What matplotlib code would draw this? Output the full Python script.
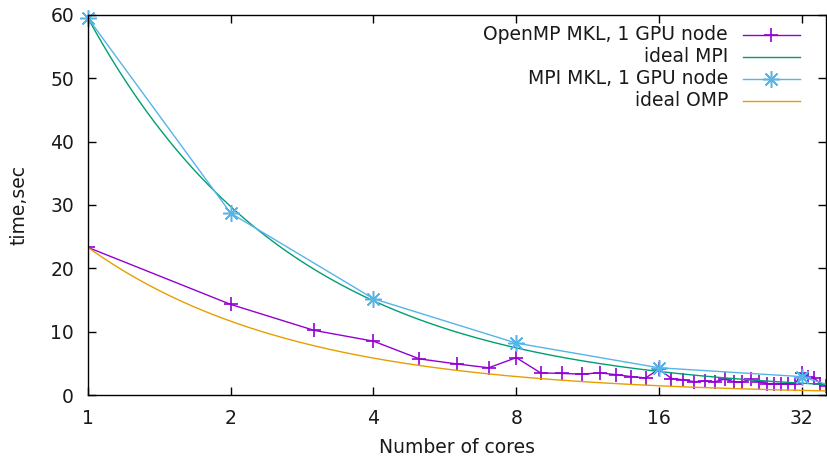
import numpy as np
import matplotlib
matplotlib.use('Agg')
from matplotlib import pyplot as plt

# Measured run times (seconds) vs number of cores
omp_cores = list(range(1, 37))
omp_time = [23.3, 14.3, 10.2, 8.5, 5.7, 4.9, 4.3, 5.9, 3.5, 3.4,
            3.3, 3.5, 3.2, 2.9, 2.7, 4.1, 2.6, 2.4, 2.1, 2.2,
            2.1, 2.5, 2.1, 2.1, 2.5, 2.1, 1.8, 1.8, 1.8, 1.8,
            1.8, 3.5, 2.9, 2.7, 1.8, 1.5]

mpi_cores = [1, 2, 4, 8, 16, 32, 36]
mpi_time = [59.5, 28.7, 15.2, 8.2, 4.3, 2.9, 1.7]

labels = ['OpenMP MKL, 1 GPU node', 'ideal MPI', 'MPI MKL, 1 GPU node', 'ideal OMP']
xticks = [1, 2, 4, 8, 16, 32]
yticks = [0, 10, 20, 30, 40, 50, 60]

purple = '#9400d3'
green = '#009e73'
blue = '#56b4e9'
orange = '#e69f00'
ink = '#1a1a1a'

# ideal scaling curves: single-core time divided by core count
xs = np.geomspace(1, 36, 200)
ideal_mpi = mpi_time[0] / xs
ideal_omp = omp_time[0] / xs

plt.rcParams['font.family'] = 'DejaVu Sans'
plt.rcParams['font.size'] = 13.5

fig = plt.figure(figsize=(8.28, 4.61), dpi=100)
ax = fig.add_axes([88 / 828, 66 / 461, 738 / 828, 380 / 461])

star = (8, 2, 0)
ax.plot(omp_cores, omp_time, color=purple, lw=1.0, marker='+', ms=10, mew=1.2, clip_on=True)
ax.plot(xs, ideal_mpi, color=green, lw=1.0)
# last point (36 cores) has no marker drawn
ax.plot(mpi_cores, mpi_time, color=blue, lw=1.0, marker=star, ms=12, mew=1.1,
        markevery=list(range(len(mpi_cores) - 1)), clip_on=False)
ax.plot(xs, ideal_omp, color=orange, lw=1.0)

ax.set_xscale('log', base=2)
ax.set_xlim(1, 36)
ax.set_ylim(0, 60)
ax.set_xticks(xticks)
ax.set_xticklabels([str(t) for t in xticks])
ax.xaxis.set_minor_locator(matplotlib.ticker.NullLocator())
ax.set_yticks(yticks)
ax.tick_params(direction='in', top=True, right=True, length=6, width=1, pad=10, labelcolor=ink)
for s in ax.spines.values():
    s.set_linewidth(1.0)

ax.set_xlabel('Number of cores', labelpad=7, color=ink)
ax.set_ylabel('time,sec', labelpad=16, color=ink)

# key in the upper right, text right-aligned left of the line samples
styles = [(purple, '+', 10, 1.2), (green, None, 0, 0), (blue, star, 12, 1.1), (orange, None, 0, 0)]
for i, (lab, (c, m, ms, mew)) in enumerate(zip(labels, styles)):
    y = (461 - 35 - 22 * i) / 461
    fig.text(728 / 828, y, lab, ha='right', va='center', color=ink)
    fig.add_artist(matplotlib.lines.Line2D([743 / 828, 800 / 828], [y, y], color=c, lw=1.0,
                                           transform=fig.transFigure))
    if m is not None:
        fig.add_artist(matplotlib.lines.Line2D([771.5 / 828], [y], color=c, marker=m, ms=ms, mew=mew,
                                               transform=fig.transFigure))

fig.savefig('out.png', dpi=100)
